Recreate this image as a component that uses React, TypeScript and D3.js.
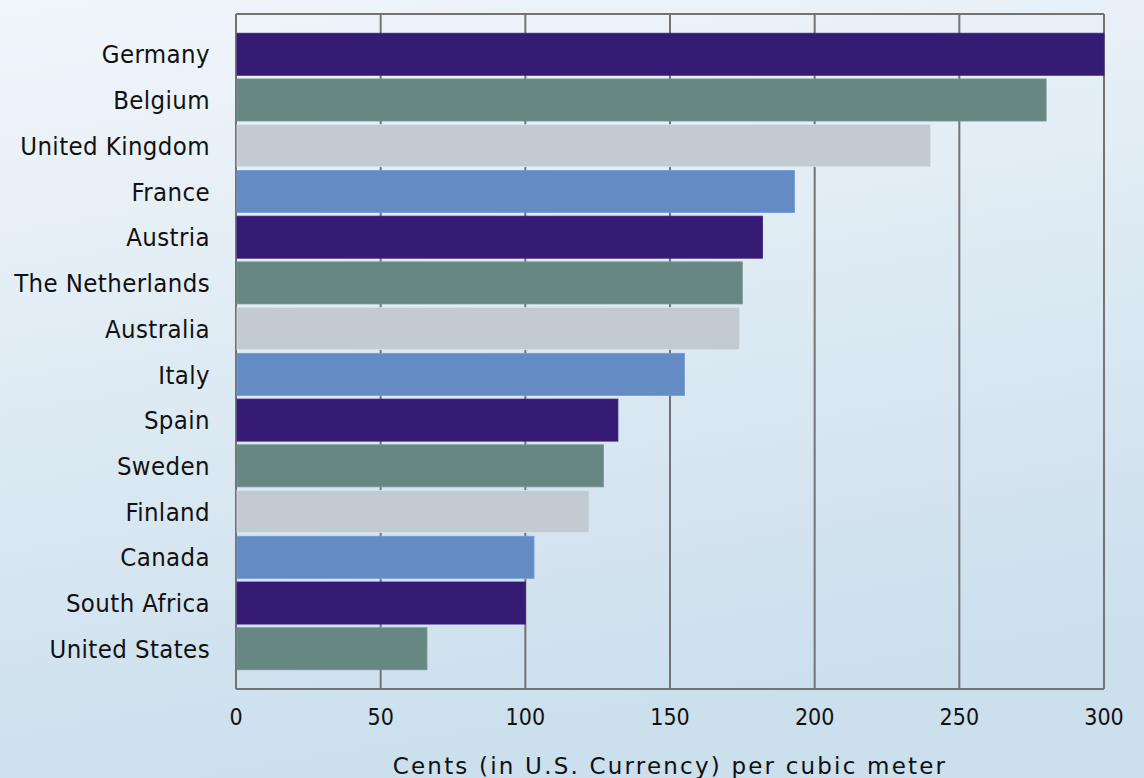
import { useRef, useEffect } from 'react';
import * as d3 from 'd3';

const countries = [
  'Germany', 'Belgium', 'United Kingdom', 'France', 'Austria', 'The Netherlands', 'Australia',
  'Italy', 'Spain', 'Sweden', 'Finland', 'Canada', 'South Africa', 'United States',
];
const cents = [300, 280, 240, 193, 182, 175, 174, 155, 132, 127, 122, 103, 100, 66];
const xTicks = [0, 50, 100, 150, 200, 250, 300];
const palette = ['#361b74', '#678783', '#c1cbd1', '#648bc4'];
const axisTitle = 'Cents (in U.S. Currency) per cubic meter';

const W = 1144;
const H = 778;
const FONT = '"DejaVu Sans Condensed", "DejaVu Sans", sans-serif';

const App = () => {
  const svgRef = useRef<SVGSVGElement>(null);

  useEffect(() => {
    const svg = d3.select(svgRef.current);
    svg.selectAll('*').remove();

    const margin = { top: 14, right: 40, bottom: 89, left: 236 };

    // background gradient
    const defs = svg.append('defs');
    const grad = defs.append('linearGradient')
      .attr('id', 'bg')
      .attr('x1', '0').attr('y1', '0')
      .attr('x2', '0.25').attr('y2', '1');
    grad.append('stop').attr('offset', '0%').attr('stop-color', '#f1f6fa');
    grad.append('stop').attr('offset', '100%').attr('stop-color', '#cbdfed');
    svg.append('rect').attr('width', W).attr('height', H).attr('fill', 'url(#bg)');

    const x = d3.scaleLinear()
      .domain([0, 300])
      .range([margin.left, 1104]);

    const y = d3.scaleBand()
      .domain(countries)
      .range([margin.top, H - margin.bottom])
      .paddingInner(0.08)
      .paddingOuter(0.42);

    // gridlines
    svg.append('g')
      .selectAll('line')
      .data(xTicks)
      .join('line')
      .attr('x1', d => x(d))
      .attr('x2', d => x(d))
      .attr('y1', margin.top)
      .attr('y2', H - margin.bottom)
      .attr('stroke', '#737373')
      .attr('stroke-width', 2);

    // top and bottom frame
    svg.append('path')
      .attr('d', `M${x(0)},${margin.top}H${x(300)}M${x(0)},${H - margin.bottom}H${x(300)}`)
      .attr('stroke', '#737373')
      .attr('stroke-width', 2)
      .attr('fill', 'none');

    // bars
    svg.append('g')
      .selectAll('rect')
      .data(countries)
      .join('rect')
      .attr('x', x(0) + 1)
      .attr('y', d => y(d)!)
      .attr('width', (d, i) => x(cents[i]) - x(0) - 1)
      .attr('height', y.bandwidth())
      .attr('fill', (d, i) => palette[i % palette.length])
      .attr('stroke', (d, i) => d3.color(palette[i % palette.length])!.brighter(0.3).formatHex())
      .attr('stroke-width', 0.8);

    // country labels
    svg.append('g')
      .selectAll('text')
      .data(countries)
      .join('text')
      .attr('x', 210)
      .attr('y', d => y(d)! + y.bandwidth() / 2)
      .attr('dy', '0.36em')
      .attr('text-anchor', 'end')
      .attr('font-family', FONT)
      .attr('font-size', 25.5)
      .attr('letter-spacing', 0.4)
      .attr('fill', '#111')
      .text(d => d);

    // tick labels
    svg.append('g')
      .selectAll('text')
      .data(xTicks)
      .join('text')
      .attr('x', d => x(d))
      .attr('y', 725)
      .attr('text-anchor', 'middle')
      .attr('font-family', FONT)
      .attr('font-size', 23)
      .attr('fill', '#111')
      .text(d => d);

    svg.append('text')
      .attr('x', (x(0) + x(300)) / 2)
      .attr('y', 774)
      .attr('text-anchor', 'middle')
      .attr('font-family', '"DejaVu Sans", sans-serif')
      .attr('font-size', 23)
      .attr('letter-spacing', 2.2)
      .attr('fill', '#111')
      .text(axisTitle);
  }, []);

  return (
    <div style={{ position: 'absolute', left: 0, top: 0 }}>
      <svg ref={svgRef} width={W} height={H} style={{ display: 'block' }}></svg>
    </div>
  );
};

export default App;
